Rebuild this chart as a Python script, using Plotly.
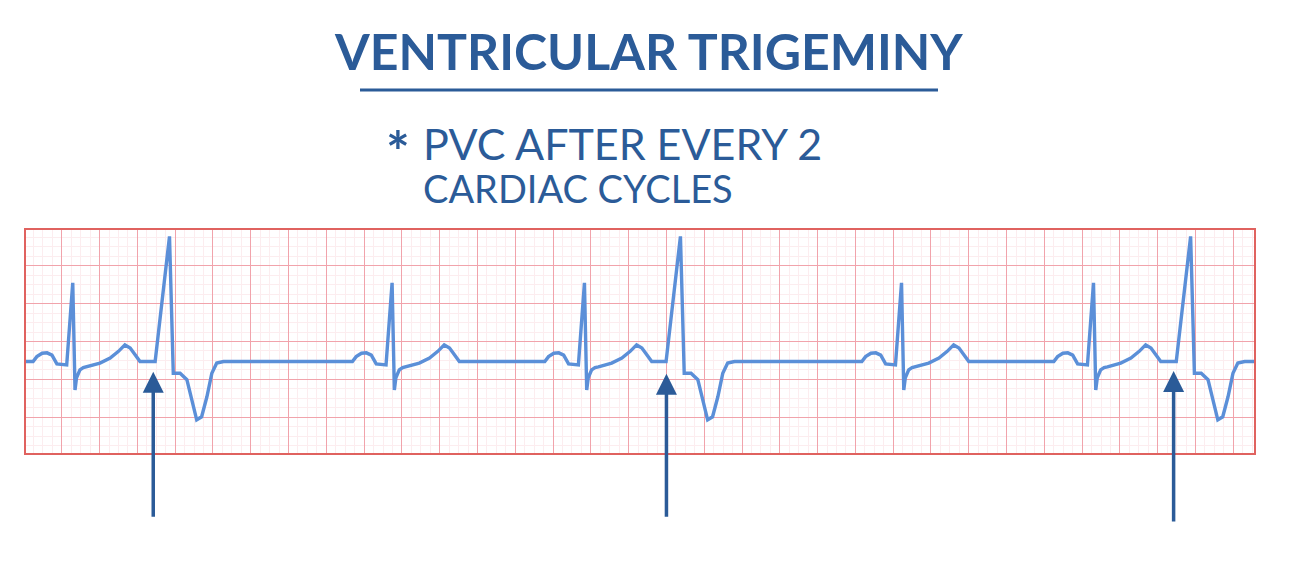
import plotly.graph_objects as go

# ECG strip, x in large-square units (time), y in large-square units (amplitude)
ecg_x = [
    0.00,
    0.24, 0.34, 0.48, 0.61, 0.74, 0.87, 1.13, 1.29, 1.35, 1.39, 1.48, 1.57, 1.66, 2.01, 2.28, 2.50, 2.67, 2.81, 2.94, 3.07,
    3.47, 3.85, 3.95, 4.13, 4.31, 4.44, 4.57, 4.70, 4.84, 4.97, 5.10, 5.28,
    8.69, 8.79, 8.93, 9.06, 9.19, 9.32, 9.58, 9.74, 9.80, 9.84, 9.93, 10.02, 10.11, 10.46, 10.73, 10.95, 11.12, 11.26, 11.39, 11.52,
    13.78, 13.88, 14.02, 14.15, 14.28, 14.41, 14.67, 14.83, 14.89, 14.93, 15.02, 15.11, 15.20, 15.55, 15.82, 16.04, 16.21, 16.35, 16.48, 16.61,
    16.99, 17.37, 17.47, 17.65, 17.83, 17.96, 18.09, 18.22, 18.36, 18.49, 18.62, 18.80,
    22.17, 22.27, 22.41, 22.54, 22.67, 22.80, 23.06, 23.22, 23.28, 23.32, 23.41, 23.50, 23.59, 23.94, 24.21, 24.43, 24.60, 24.74, 24.87, 25.00,
    27.25, 27.35, 27.49, 27.62, 27.75, 27.88, 28.14, 28.30, 28.36, 28.40, 28.49, 28.58, 28.67, 29.02, 29.29, 29.51, 29.68, 29.82, 29.95, 30.08,
    30.49, 30.87, 30.97, 31.15, 31.33, 31.46, 31.59, 31.72, 31.86, 31.99, 32.12, 32.30,
    32.60,
]
ecg_y = [
    2.47,
    2.47, 2.60, 2.69, 2.70, 2.64, 2.41, 2.38, 4.55, 1.72, 2.04, 2.25, 2.31, 2.33, 2.43, 2.56, 2.74, 2.91, 2.83, 2.65, 2.47,
    2.47, 5.78, 2.16, 2.16, 1.99, 1.46, 0.93, 1.01, 1.54, 2.16, 2.43, 2.47,
    2.47, 2.60, 2.69, 2.70, 2.64, 2.41, 2.38, 4.55, 1.72, 2.04, 2.25, 2.31, 2.33, 2.43, 2.56, 2.74, 2.91, 2.83, 2.65, 2.47,
    2.47, 2.60, 2.69, 2.70, 2.64, 2.41, 2.38, 4.55, 1.72, 2.04, 2.25, 2.31, 2.33, 2.43, 2.56, 2.74, 2.91, 2.83, 2.65, 2.47,
    2.47, 5.78, 2.16, 2.16, 1.99, 1.46, 0.93, 1.01, 1.54, 2.16, 2.43, 2.47,
    2.47, 2.60, 2.69, 2.70, 2.64, 2.41, 2.38, 4.55, 1.72, 2.04, 2.25, 2.31, 2.33, 2.43, 2.56, 2.74, 2.91, 2.83, 2.65, 2.47,
    2.47, 2.60, 2.69, 2.70, 2.64, 2.41, 2.38, 4.55, 1.72, 2.04, 2.25, 2.31, 2.33, 2.43, 2.56, 2.74, 2.91, 2.83, 2.65, 2.47,
    2.47, 5.78, 2.16, 2.16, 1.99, 1.46, 0.93, 1.01, 1.54, 2.16, 2.43, 2.47,
    2.47,
]

# PVC markers (arrows under the strip)
pvc_arrow_x = [3.42, 17.00, 30.42]
pvc_arrow_tip_y = [2.20, 2.15, 2.22]
pvc_arrow_tail_y = [-1.67, -1.67, -1.80]

x_range = [0, 32.6]
y_range = [0, 6]

title_text = "VENTRICULAR TRIGEMINY"
sub_bullet = "*"
sub_line1 = "PVC AFTER EVERY 2"
sub_line2 = "CARDIAC CYCLES"

BLUE_TEXT = "#2b5b98"
ECG_BLUE = "#5b8fd8"
BOX_RED = "#e0625f"

fig = go.Figure()
fig.add_trace(go.Scatter(
    x=ecg_x, y=ecg_y, mode="lines",
    line=dict(color=ECG_BLUE, width=3.4, shape="linear"),
    hoverinfo="skip", showlegend=False,
))

W, H = 1292, 562
fig.update_layout(
    width=W, height=H,
    margin=dict(l=0, r=0, t=0, b=0),
    paper_bgcolor="white", plot_bgcolor="white",
    showlegend=False,
    xaxis=dict(
        domain=[24 / W, 1256 / W], range=x_range, dtick=1, tick0=0,
        showgrid=True, gridcolor="#f1a3ab", gridwidth=1,
        minor=dict(dtick=0.25, showgrid=True, gridcolor="#fcedef", gridwidth=1),
        showticklabels=False, zeroline=False, showline=False, ticks="",
    ),
    yaxis=dict(
        domain=[(H - 455) / H, (H - 228) / H], range=y_range, dtick=1, tick0=0,
        showgrid=True, gridcolor="#f1a3ab", gridwidth=1,
        minor=dict(dtick=0.25, showgrid=True, gridcolor="#fcedef", gridwidth=1),
        showticklabels=False, zeroline=False, showline=False, ticks="",
    ),
)

# strip border
fig.add_shape(type="rect", xref="x", yref="y", x0=x_range[0], x1=x_range[1],
              y0=y_range[0], y1=y_range[1], line=dict(color=BOX_RED, width=4),
              layer="above")

# title and underline
fig.add_annotation(text=title_text, xref="paper", yref="paper",
                   x=648 / W, y=(H - 51) / H, xanchor="center", yanchor="middle",
                   showarrow=False,
                   font=dict(family="Lato", size=50, color=BLUE_TEXT, weight="bold"))
fig.add_shape(type="line", xref="paper", yref="paper",
              x0=360 / W, x1=938 / W, y0=(H - 90) / H, y1=(H - 90) / H,
              line=dict(color=BLUE_TEXT, width=3))

# subtitle
fig.add_annotation(text=sub_bullet, xref="paper", yref="paper",
                   x=398 / W, y=(H - 150) / H, xanchor="center", yanchor="middle",
                   showarrow=False,
                   font=dict(family="Lato", size=56, color=BLUE_TEXT, weight="bold"))
fig.add_annotation(text=sub_line1, xref="paper", yref="paper",
                   x=421 / W, y=(H - 143) / H, xanchor="left", yanchor="middle",
                   showarrow=False, font=dict(family="Lato", size=43, color=BLUE_TEXT))
fig.add_annotation(text=sub_line2, xref="paper", yref="paper",
                   x=421 / W, y=(H - 188) / H, xanchor="left", yanchor="middle",
                   showarrow=False, font=dict(family="Lato", size=38, color=BLUE_TEXT))

# arrows pointing at each PVC
for ax_, tip, tail in zip(pvc_arrow_x, pvc_arrow_tip_y, pvc_arrow_tail_y):
    fig.add_annotation(x=ax_, y=tip, ax=ax_, ay=tail, xref="x", yref="y",
                       axref="x", ayref="y", showarrow=True, text="",
                       arrowhead=2, arrowsize=1.2, arrowwidth=3.5,
                       arrowcolor=BLUE_TEXT, standoff=0, startstandoff=0)

fig.write_html("out.html")
